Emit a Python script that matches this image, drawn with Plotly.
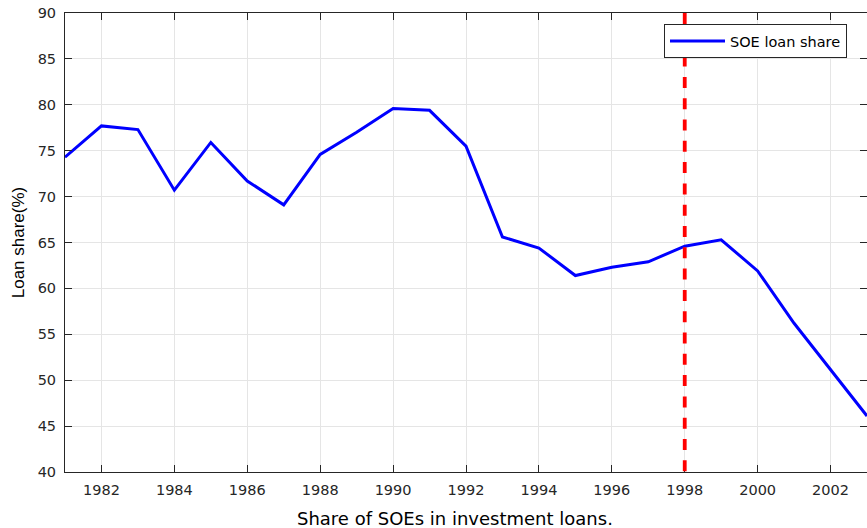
import plotly.graph_objects as go

years = list(range(1981, 2004))
soe_share = [74.3, 77.7, 77.3, 70.7, 75.9, 71.7, 69.1, 74.6, 77.0, 79.6, 79.4, 75.5,
             65.6, 64.4, 61.4, 62.3, 62.9, 64.6, 65.3, 61.9, 56.2, 51.1, 46.1]
x_ticks = [1982, 1984, 1986, 1988, 1990, 1992, 1994, 1996, 1998, 2000, 2002]
y_ticks = [40, 45, 50, 55, 60, 65, 70, 75, 80, 85, 90]
reform_year = 1998
x_title = "Share of SOEs in investment loans."
y_title = "Loan share(%)"

tick_font = dict(family="DejaVu Sans", size=14.5, color="#262626")

fig = go.Figure()
fig.add_trace(go.Scatter(x=years, y=soe_share, mode="lines", name="SOE loan share",
                         line=dict(color="#0000ff", width=3)))
fig.add_shape(type="line", x0=reform_year, x1=reform_year, y0=1, y1=0, yref="paper",
              line=dict(color="#ff0000", width=3.8, dash="11px,10.3px"))
fig.add_annotation(text=x_title, xref="paper", yref="paper",
                   x=(455 - 65) / 802, y=-(518 - 472) / 459, xanchor="center", yanchor="middle",
                   showarrow=False,
                   font=dict(family="DejaVu Sans", size=18, color="#000000"))

fig.update_layout(
    width=867, height=528,
    margin=dict(l=65, r=0, t=13, b=56),
    plot_bgcolor="white", paper_bgcolor="white",
    showlegend=True,
    legend=dict(x=(847 - 65) / 802, y=(472 - 24) / 459, xanchor="right", yanchor="top",
                bgcolor="white", bordercolor="#262626", borderwidth=1,
                font=dict(family="DejaVu Sans", size=14.5, color="#000000"),
                itemwidth=55, tracegroupgap=0),
    xaxis=dict(range=[1981, 2003], tickvals=x_ticks, ticks="inside", ticklen=7,
               tickcolor="#262626", showline=True, linecolor="#262626", linewidth=1,
               mirror="ticks", showgrid=True, gridcolor="#e5e5e5", gridwidth=1,
               tickfont=tick_font, zeroline=False, ticklabelstandoff=5),
    yaxis=dict(range=[40, 90], tickvals=y_ticks, ticks="inside", ticklen=7,
               tickcolor="#262626", showline=True, linecolor="#262626", linewidth=1,
               mirror="ticks", showgrid=True, gridcolor="#e5e5e5", gridwidth=1,
               tickfont=tick_font, zeroline=False, ticklabelstandoff=5,
               title=dict(text=y_title,
                          font=dict(family="Liberation Sans Narrow, Liberation Sans", size=17, color="#000000"),
                          standoff=8)),
)

fig.write_html("out.html", config={"displayModeBar": False},
               post_script="document.body.style.margin='0';")
